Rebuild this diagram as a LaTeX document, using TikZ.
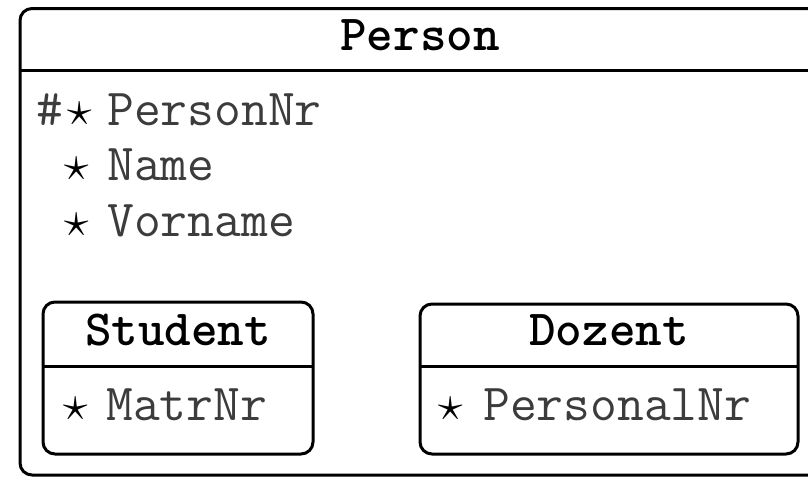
\documentclass[tikz,border=0pt]{standalone}
\usepackage{fontspec}
\definecolor{attrgray}{RGB}{60,60,60}
\begin{document}
\begin{tikzpicture}[x=0.5pt,y=-0.5pt,
  boxline/.style={line width=1.5pt, rounded corners=6pt},
  sepline/.style={line width=1.5pt},
  title/.style={anchor=base, inner sep=0pt, font=\fontsize{25.3}{30}\selectfont\ttfamily\bfseries},
  attr/.style={anchor=base west, inner sep=0pt, text=attrgray, font=\fontsize{26}{30}\selectfont\ttfamily},
  starmark/.style={anchor=base, inner sep=0pt, font=\fontsize{28}{32}\selectfont}]
\useasboundingbox (0,0) rectangle (808,477);
\begin{scope}
\clip (0,0) rectangle (808,477);
% outer Person box
\draw[boxline] (20,8.5) rectangle (822,475);
\coordinate (pl) at (20,70);
\coordinate (pr) at (822,70);
\draw[sepline] (pl) -- (pr);
\end{scope}
\node[title] (person) at (420,50) {Person};
\node[attr] (hash) at (36,125) {\#};
\node[starmark] (s1) at (80,125) {$\star$};
\node[attr] (a1) at (107,125) {PersonNr};
\node[starmark] (s2) at (77,180) {$\star$};
\node[attr] (a2) at (107,180) {Name};
\node[starmark] (s3) at (77,236) {$\star$};
\node[attr] (a3) at (107,236) {Vorname};
% Student box
\draw[boxline] (43,302) rectangle (313,454);
\coordinate (sl) at (43,366);
\coordinate (sr) at (313,366);
\draw[sepline] (sl) -- (sr);
\node[title] (student) at (178,345) {Student};
\node[starmark] (s4) at (76,420) {$\star$};
\node[attr] (a4) at (106,420) {MatrNr};
% Dozent box
\draw[boxline] (420,304) rectangle (798,454);
\coordinate (dl) at (420,366);
\coordinate (dr) at (798,366);
\draw[sepline] (dl) -- (dr);
\node[title] (dozent) at (609,345) {Dozent};
\node[starmark] (s5) at (451,420) {$\star$};
\node[attr] (a5) at (483,420) {PersonalNr};
\end{tikzpicture}
\end{document}
